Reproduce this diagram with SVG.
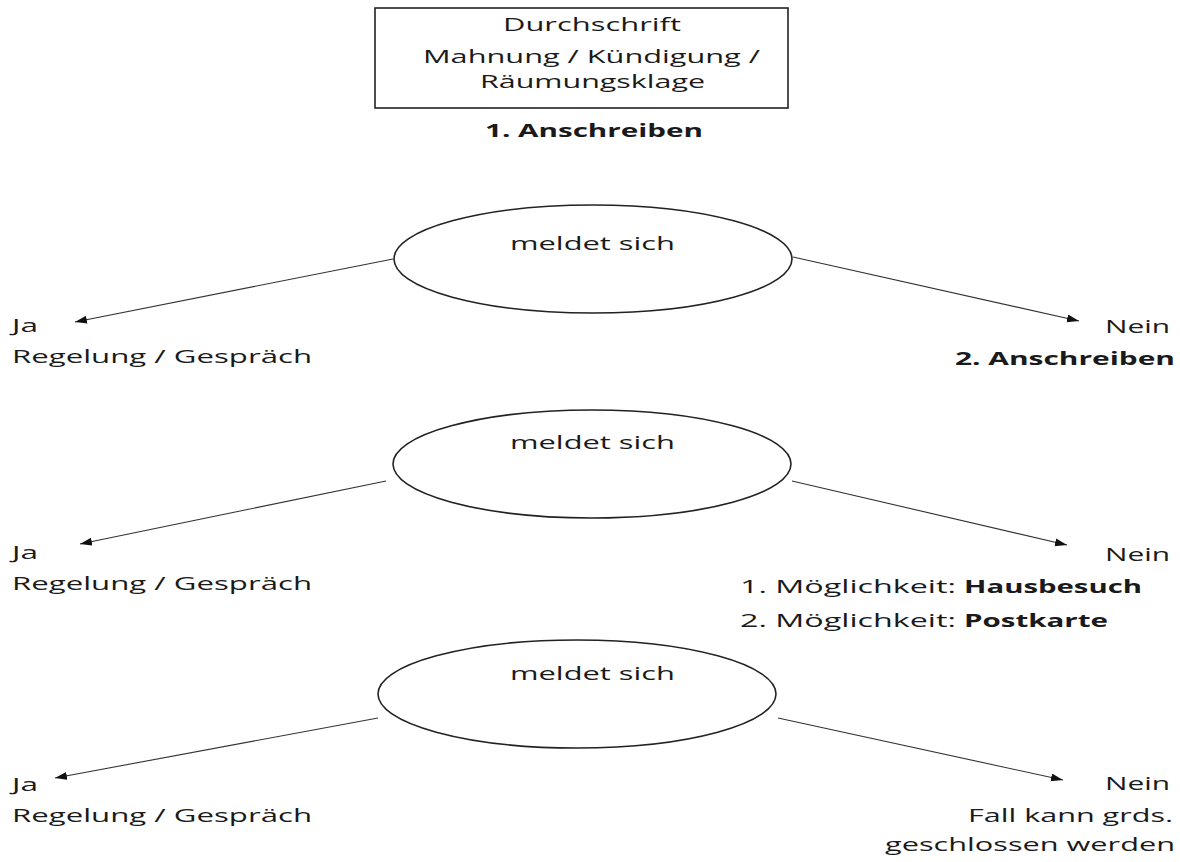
<svg xmlns="http://www.w3.org/2000/svg" width="1180" height="862" viewBox="0 0 1180 862">
<style>
text{font-family:"Open Sans","Noto Sans",sans-serif;font-size:18.5px;fill:#1a1a1a}
.b{font-weight:bold}
.node{fill:#fff;stroke:#222;stroke-width:1.6}
.edge{stroke:#333;stroke-width:1.1;fill:none;marker-end:url(#arr)}
</style>
<defs>
<marker id="arr" markerUnits="userSpaceOnUse" markerWidth="14" markerHeight="10" refX="12" refY="4" orient="auto"><path d="M0,0 L12,4 L0,8 Z" fill="#111"/></marker>
</defs>
<rect width="1180" height="862" fill="#fff"/>
<g id="connectors">
<line class="edge" x1="393" y1="259" x2="75" y2="322"/>
<line class="edge" x1="793" y1="257" x2="1079" y2="321"/>
<line class="edge" x1="386" y1="481" x2="80" y2="544"/>
<line class="edge" x1="792" y1="481" x2="1067" y2="545"/>
<line class="edge" x1="378" y1="718" x2="55" y2="778"/>
<line class="edge" x1="778" y1="718" x2="1063" y2="780"/>
</g>
<g id="start">
<rect class="node" x="375" y="8" width="413" height="100"/>
<text x="503" y="31" textLength="178" lengthAdjust="spacingAndGlyphs">Durchschrift</text>
<text x="423" y="63" textLength="337" lengthAdjust="spacingAndGlyphs">Mahnung / Kündigung /</text>
<text x="480" y="88" textLength="225" lengthAdjust="spacingAndGlyphs">Räumungsklage</text>
</g>
<g id="anschreiben1"><text class="b" x="485" y="137" textLength="218" lengthAdjust="spacingAndGlyphs">1. Anschreiben</text></g>
<g id="q1">
<ellipse class="node" cx="593" cy="259" rx="199" ry="54"/>
<text x="510" y="250" textLength="165" lengthAdjust="spacingAndGlyphs">meldet sich</text>
</g>
<g id="ja1">
<text x="12" y="332" textLength="26" lengthAdjust="spacingAndGlyphs">Ja</text>
<text x="12" y="363" textLength="300" lengthAdjust="spacingAndGlyphs">Regelung / Gespräch</text>
</g>
<g id="nein1">
<text x="1105" y="333" textLength="65" lengthAdjust="spacingAndGlyphs">Nein</text>
<text class="b" x="955" y="365" textLength="220" lengthAdjust="spacingAndGlyphs">2. Anschreiben</text>
</g>
<g id="q2">
<ellipse class="node" cx="592" cy="464" rx="199" ry="54"/>
<text x="510" y="449" textLength="165" lengthAdjust="spacingAndGlyphs">meldet sich</text>
</g>
<g id="ja2">
<text x="12" y="559" textLength="26" lengthAdjust="spacingAndGlyphs">Ja</text>
<text x="12" y="590" textLength="300" lengthAdjust="spacingAndGlyphs">Regelung / Gespräch</text>
</g>
<g id="nein2">
<text x="1105" y="561" textLength="65" lengthAdjust="spacingAndGlyphs">Nein</text>
<text x="740" y="593" textLength="216" lengthAdjust="spacingAndGlyphs">1. Möglichkeit:</text>
<text class="b" x="964" y="593" textLength="178" lengthAdjust="spacingAndGlyphs">Hausbesuch</text>
<text x="740" y="627" textLength="216" lengthAdjust="spacingAndGlyphs">2. Möglichkeit:</text>
<text class="b" x="964" y="627" textLength="144" lengthAdjust="spacingAndGlyphs">Postkarte</text>
</g>
<g id="q3">
<ellipse class="node" cx="577" cy="694" rx="199" ry="54"/>
<text x="510" y="680" textLength="165" lengthAdjust="spacingAndGlyphs">meldet sich</text>
</g>
<g id="ja3">
<text x="12" y="791" textLength="26" lengthAdjust="spacingAndGlyphs">Ja</text>
<text x="12" y="822" textLength="300" lengthAdjust="spacingAndGlyphs">Regelung / Gespräch</text>
</g>
<g id="nein3">
<text x="1105" y="790" textLength="65" lengthAdjust="spacingAndGlyphs">Nein</text>
<text x="968" y="822" textLength="205" lengthAdjust="spacingAndGlyphs">Fall kann grds.</text>
<text x="885" y="851" textLength="290" lengthAdjust="spacingAndGlyphs">geschlossen werden</text>
</g>
</svg>
